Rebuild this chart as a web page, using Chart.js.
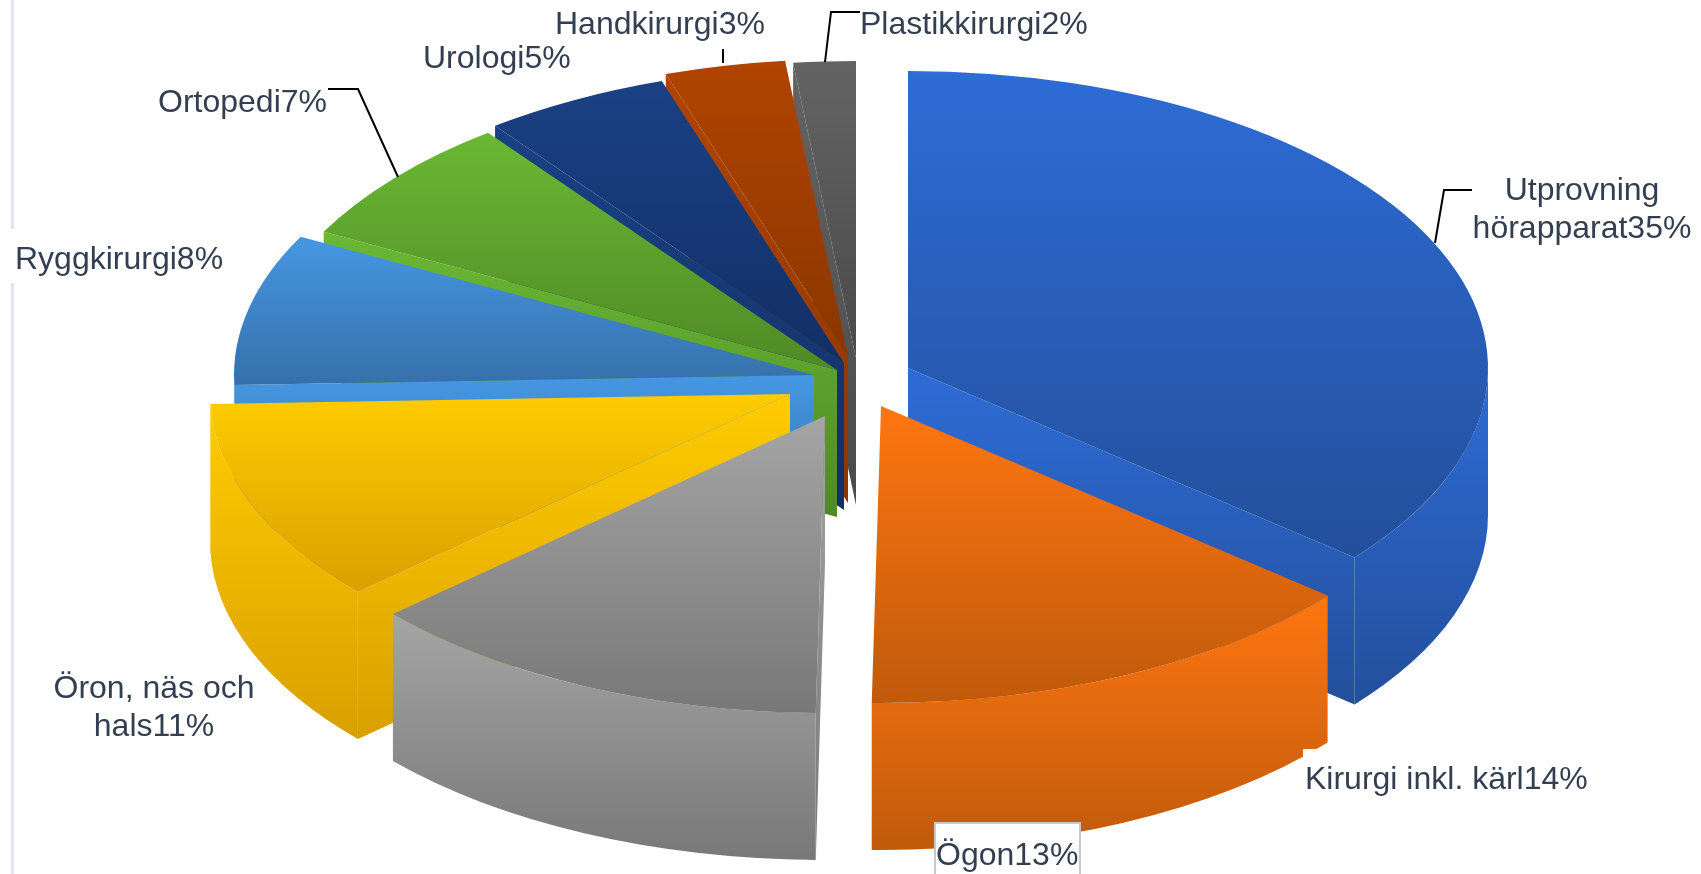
<!DOCTYPE html>
<html lang="sv">
<head>
    <meta charset="UTF-8">
    <title>Fördelning</title>
    <style>
        html, body { margin: 0; padding: 0; background: #fff; }
        canvas { display: block; }
    </style>
</head>
<body>
    <canvas id="myChart" width="1701" height="874"></canvas>

<script src="https://cdn.jsdelivr.net/npm/chart.js"></script>
<script>
// data, the printed labels are these rounded
const categories = ['Utprovning\nhörapparat', 'Kirurgi inkl. kärl', 'Ögon', 'Öron, näs och\nhals', 'Ryggkirurgi', 'Ortopedi', 'Urologi', 'Handkirurgi', 'Plastikkirurgi']
const values = [35.4, 14, 12.9, 10.9, 8.1, 6.9, 5.1, 3.3, 1.7]

// colours, bright top / dark bottom of each slice
const lightColors = ['#2e6cd6', '#ff7611', '#a5a5a5', '#ffcc00', '#4597e3', '#6ab834', '#1a4184', '#b04400', '#636363']
const darkColors = ['#234f9b', '#c05a0b', '#787878', '#d9a000', '#3670aa', '#4f8a25', '#122f66', '#8a3600', '#4a4a4a']

// 3d look
const pieX = 849
const pieY = 382
const radius = 580
const squash = 0.512
const depth = 147
const explode = [[59, -14], [32, 24], [-24, 34], [-59, 12], [-35, -7], [-12, -12], [-5, -19], [-1, -26], [7, -24]]
const drawOrder = [8, 7, 6, 5, 4, 3, 2, 0, 1] // back to front

// labels: x, baseline, align for each category
const labelSpots = [[1582, 200, 'center'], [1305, 789, 'left'], [936, 865, 'left'], [154, 698, 'center'], [15, 269, 'left'], [158, 112, 'left'], [423, 68, 'left'], [555, 34, 'left'], [860, 34, 'left']]
const leaders = [
    [[1472, 190], [1444, 190], [1435, 243]],
    [[328, 89], [358, 89], [398, 177]],
    [[723, 49], [723, 63]],
    [[860, 12], [831, 12], [825, 62]]
]

const total = values.reduce((a, b) => a + b, 0)

function sliceAngles(i) {
    let before = 0
    for (let n = 0; n < i; n++) before += values[n]
    const start = -Math.PI / 2 + before / total * Math.PI * 2
    return [start, start + values[i] / total * Math.PI * 2]
}

// top face gradient, in the unsquashed space of the arc
function topFill(c) {
    const area = c.chart.chartArea
    if (!area) return lightColors[c.dataIndex]
    const cy = (area.top + area.bottom) / 2
    const [a, b] = sliceAngles(c.dataIndex)
    let lo = Math.min(0, Math.sin(a), Math.sin(b))
    let hi = Math.max(0, Math.sin(a), Math.sin(b))
    if (a <= -Math.PI / 2 + 1e-6) lo = -1
    if (a < Math.PI / 2 && b > Math.PI / 2) hi = 1
    const g = c.chart.ctx.createLinearGradient(0, cy + lo * radius, 0, cy + hi * radius)
    g.addColorStop(0, lightColors[c.dataIndex])
    g.addColorStop(1, darkColors[c.dataIndex])
    return g
}

function wallFill(ctx, i, top, bottom) {
    const g = ctx.createLinearGradient(0, top, 0, bottom)
    g.addColorStop(0, lightColors[i])
    g.addColorStop(1, darkColors[i])
    return g
}

// side faces of one slice, drawn in screen space from the arc's own angles
function drawWalls(ctx, arc, i) {
    const x0 = pieX + explode[i][0]
    const y0 = pieY + explode[i][1]
    const ry = radius * squash
    const a = arc.startAngle
    const b = arc.endAngle
    const faces = []
    if (Math.cos(a) < -1e-6) faces.push(a)
    if (Math.cos(b) > 1e-6) faces.push(b)

    faces.forEach(t => {
        const ex = x0 + radius * Math.cos(t)
        const ey = y0 + ry * Math.sin(t)
        ctx.fillStyle = wallFill(ctx, i, Math.min(y0, ey), Math.max(y0, ey) + depth)
        ctx.beginPath()
        ctx.moveTo(x0, y0)
        ctx.lineTo(ex, ey)
        ctx.lineTo(ex, ey + depth)
        ctx.lineTo(x0, y0 + depth)
        ctx.closePath()
        ctx.fill()
    })

    const from = Math.max(a, 0)
    const to = Math.min(b, Math.PI)
    if (from < to) {
        const top = y0 + ry * Math.min(Math.sin(from), Math.sin(to))
        const low = from < Math.PI / 2 && to > Math.PI / 2 ? 1 : Math.max(Math.sin(from), Math.sin(to))
        ctx.fillStyle = wallFill(ctx, i, top, y0 + ry * low + depth)
        ctx.beginPath()
        ctx.ellipse(x0, y0, radius, ry, 0, from, to, false)
        ctx.ellipse(x0, y0 + depth, radius, ry, 0, to, from, true)
        ctx.closePath()
        ctx.fill()
    }
}

const pie3d = {
    id: 'pie3d',
    beforeDatasetDraw(chart, args) {
        const ctx = chart.ctx
        const arcs = args.meta.data
        drawOrder.forEach(i => {
            const arc = arcs[i]
            drawWalls(ctx, arc, i)
            ctx.save()
            ctx.translate(pieX + explode[i][0], pieY + explode[i][1])
            ctx.scale(1, squash)
            ctx.translate(-arc.x, -arc.y)
            arc.draw(ctx)
            ctx.restore()
        })
        return false
    },
    beforeDraw(chart) {
        // faint rule down the left side, broken behind the Ryggkirurgi label
        const ctx = chart.ctx
        ctx.fillStyle = '#e0e6ed'
        ctx.fillRect(11, 0, 3, 229)
        ctx.fillRect(11, 283, 3, 591)
    },
    afterDraw(chart) {
        const ctx = chart.ctx
        ctx.save()
        // label backgrounds
        ctx.fillStyle = '#fff'
        ctx.fillRect(1303, 749, 284, 70)
        ctx.fillRect(934, 822, 146, 60)
        ctx.strokeStyle = '#c8c8c8'
        ctx.lineWidth = 2
        ctx.strokeRect(935, 823, 145, 60)

        ctx.strokeStyle = '#000'
        ctx.lineWidth = 2
        leaders.forEach(line => {
            ctx.beginPath()
            line.forEach((p, n) => n ? ctx.lineTo(p[0], p[1]) : ctx.moveTo(p[0], p[1]))
            ctx.stroke()
        })

        ctx.fillStyle = '#333f50'
        ctx.font = '32px "Liberation Sans", Arial, sans-serif'
        categories.forEach((name, i) => {
            const [x, y, align] = labelSpots[i]
            ctx.textAlign = align
            const lines = (name + Math.round(values[i]) + '%').split('\n')
            lines.forEach((t, n) => ctx.fillText(t, x, y + n * 38))
        })
        ctx.restore()
    }
}

new Chart(document.getElementById('myChart'), {
    type: 'pie',
    data: {
        labels: categories,
        datasets: [{
            data: values,
            backgroundColor: topFill,
            borderWidth: 0
        }]
    },
    options: {
        responsive: false,
        animation: false,
        radius: radius,
        events: [],
        plugins: {
            legend: { display: false },
            tooltip: { enabled: false }
        }
    },
    plugins: [pie3d]
})
</script>
</body>
</html>
